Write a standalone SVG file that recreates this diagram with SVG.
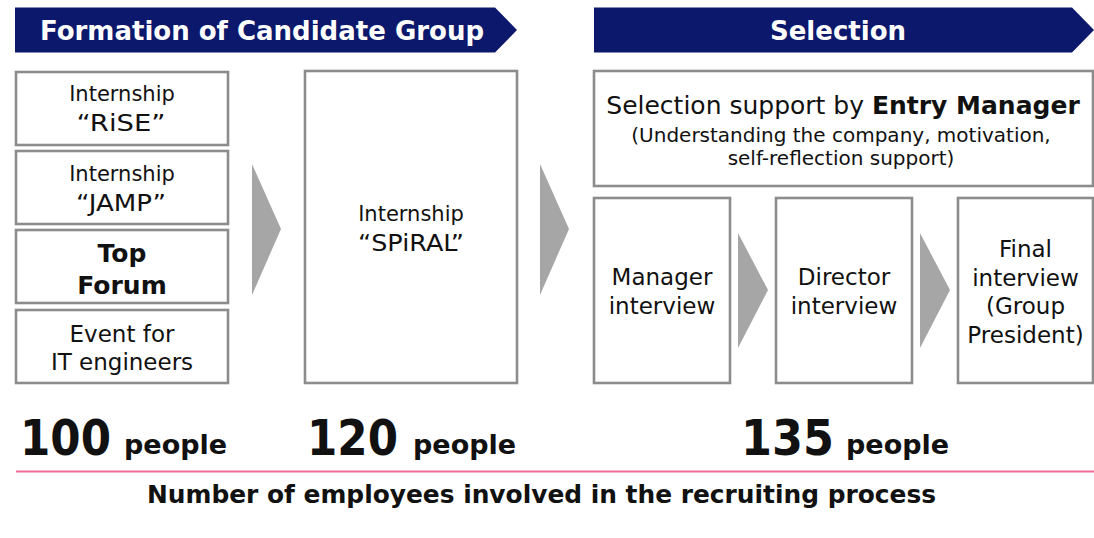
<svg xmlns="http://www.w3.org/2000/svg" width="1094" height="538" viewBox="0 0 1094 538">
  <style>
    text { font-family: "DejaVu Sans", Verdana, sans-serif; fill: #111; }
    .banner { fill: #0b186b; }
    .banner-label { fill: #fff; font-weight: bold; font-size: 26px; text-anchor: middle; }
    .box { fill: #fff; stroke: #8c8c8c; stroke-width: 2.6; }
    .flow { fill: #a6a6a6; }
    .c { text-anchor: middle; }
    .b { font-weight: bold; }
    .num { font-weight: bold; font-size: 49px; }
    .unit { font-weight: bold; font-size: 27px; }
  </style>

  <rect width="1094" height="538" fill="#fff"/>

  <!-- phase banners -->
  <g id="banner-formation">
    <polygon class="banner" points="15,7.5 495,7.5 517,30 495,52.5 15,52.5"/>
    <text class="banner-label" x="262" y="40">Formation of Candidate Group</text>
  </g>
  <g id="banner-selection">
    <polygon class="banner" points="594,7.5 1072,7.5 1094,30 1072,52.5 594,52.5"/>
    <text class="banner-label" x="838" y="40">Selection</text>
  </g>

  <!-- candidate group sources -->
  <g id="rise">
    <rect class="box" x="16" y="72" width="212" height="73"/>
    <text class="c" x="122" y="101" font-size="21">Internship</text>
    <text class="c" x="121" y="131" font-size="23" textLength="89" lengthAdjust="spacingAndGlyphs">“RiSE”</text>
  </g>
  <g id="jamp">
    <rect class="box" x="16" y="151" width="212" height="73"/>
    <text class="c" x="122" y="181" font-size="21">Internship</text>
    <text class="c" x="121" y="211" font-size="23" textLength="90" lengthAdjust="spacingAndGlyphs">“JAMP”</text>
  </g>
  <g id="top-forum">
    <rect class="box" x="16" y="230" width="212" height="73"/>
    <text class="c b" x="122" y="262" font-size="25">Top</text>
    <text class="c b" x="122" y="294" font-size="25">Forum</text>
  </g>
  <g id="it-event">
    <rect class="box" x="16" y="310" width="212" height="73"/>
    <text class="c" x="122" y="342" font-size="23">Event for</text>
    <text class="c" x="122" y="370" font-size="23">IT engineers</text>
  </g>

  <g id="spiral">
    <rect class="box" x="305" y="71" width="212" height="312"/>
    <text class="c" x="411" y="221" font-size="21">Internship</text>
    <text class="c" x="411" y="251" font-size="23" textLength="106" lengthAdjust="spacingAndGlyphs">“SPiRAL”</text>
  </g>

  <!-- selection stage -->
  <g id="entry-manager">
    <rect class="box" x="594" y="71" width="499" height="115"/>
    <text class="c" x="843" y="114" font-size="25">Selection support by <tspan class="b">Entry Manager</tspan></text>
    <text class="c" x="841" y="142" font-size="20">(Understanding the company, motivation,</text>
    <text class="c" x="841" y="165" font-size="20">self-reflection support)</text>
  </g>
  <g id="manager-interview">
    <rect class="box" x="594" y="198" width="136" height="185"/>
    <text class="c" x="662" y="285" font-size="23">Manager</text>
    <text class="c" x="662" y="314" font-size="23">interview</text>
  </g>
  <g id="director-interview">
    <rect class="box" x="776" y="198" width="136" height="185"/>
    <text class="c" x="844" y="285" font-size="23">Director</text>
    <text class="c" x="844" y="314" font-size="23">interview</text>
  </g>
  <g id="final-interview">
    <rect class="box" x="958" y="198" width="135" height="185"/>
    <text class="c" x="1025.5" y="257" font-size="23">Final</text>
    <text class="c" x="1025.5" y="286" font-size="23">interview</text>
    <text class="c" x="1025.5" y="314" font-size="23">(Group</text>
    <text class="c" x="1025.5" y="343" font-size="23">President)</text>
  </g>

  <!-- flow chevrons between stages -->
  <g id="connectors">
    <polygon class="flow" points="252,164 281,229 252,295"/>
    <polygon class="flow" points="540,164 569,229 540,295"/>
    <polygon class="flow" points="738,233 768,290 738,348"/>
    <polygon class="flow" points="920,233 950,290 920,348"/>
  </g>

  <!-- staff counts -->
  <g id="counts">
    <text class="num" x="20" y="455" textLength="91" lengthAdjust="spacingAndGlyphs">100</text>
    <text class="unit" x="124" y="454">people</text>
    <text class="num" x="307" y="455" textLength="91" lengthAdjust="spacingAndGlyphs">120</text>
    <text class="unit" x="413" y="454">people</text>
    <text class="num" x="741" y="455" textLength="93" lengthAdjust="spacingAndGlyphs">135</text>
    <text class="unit" x="846" y="454">people</text>
  </g>

  <line x1="16" y1="471.5" x2="1094" y2="471.5" stroke="#ee6a98" stroke-width="2"/>
  <text class="c b" x="541.5" y="503" font-size="24" textLength="789" lengthAdjust="spacingAndGlyphs">Number of employees involved in the recruiting process</text>
</svg>
